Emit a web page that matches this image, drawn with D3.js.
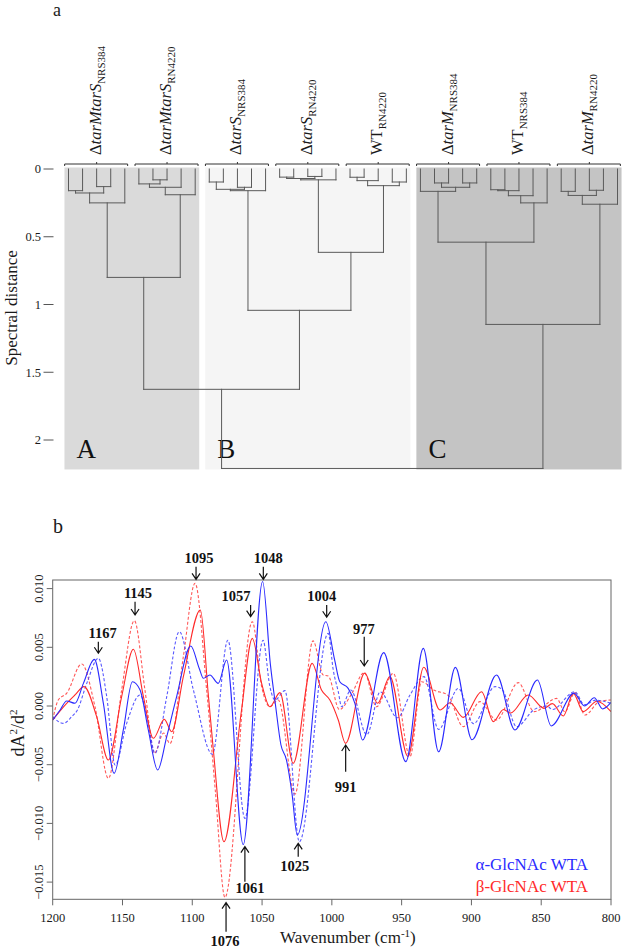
<!DOCTYPE html>
<html><head><meta charset="utf-8">
<script src="https://cdn.jsdelivr.net/npm/d3@7"></script>
<style>
body{margin:0;background:#fff}
svg{display:block}
text{font-family:"Liberation Serif","Times New Roman",serif}
</style>
</head><body>
<svg id="c" width="625" height="951"></svg>
<script>
// ---------------- Panel a : dendrogram data ----------------
const strainNames = ["ΔtarMtarS","ΔtarMtarS","ΔtarS","ΔtarS","WT","ΔtarM","WT","ΔtarM"];
const strainSubs  = ["NRS384","RN4220","NRS384","RN4220","RN4220","NRS384","NRS384","RN4220"];
const clusterNames = ["A","B","C"];
const clusterGroups = [[0,1],[2,3,4],[5,6,7]];
const distTicks = [0,0.5,1,1.5,2];
// merges: [left, right, height]; leaves are replicate spectra indices 0..39
const g1 = [[[0,1,0.16],[2,3,0.13],0.177],4,0.25];
const g2 = [[[5,[6,7,0.08],0.11],8,0.135],9,0.19];
const g3 = [[[10,11,0.096],[12,13,0.135],0.15],14,0.16];
const g4 = [[[15,16,0.06],[17,18,0.055],0.07],19,0.08];
const g5 = [[[20,21,0.061],22,0.086],[23,24,0.096],0.123];
const g6 = [25,[[26,27,0.103],[28,29,0.103],0.135],0.165];
const g7 = [[[[30,31,0.153],32,0.16],33,0.197],34,0.25];
const g8 = [[[35,36,0.165],[37,38,0.157],0.195],39,0.26];
const tree = [[[g1,g2,0.80],[g3,[g4,g5,0.615],1.043],1.626],[[g6,g7,0.54],g8,1.147],2.21];

// ---------------- Panel b : second-derivative spectra (units of 1e-3) ----------------
const alphaSolid = [[1200,-1.19],[1194.7,-0.34],[1190,0.43],[1184,0.23],[1178,1.93],[1170.2,3.97],[1163.7,0.23],[1156,-5.74],[1149.4,-2.04],[1142.9,2.07],[1137.4,1.36],[1131.5,-2.04],[1124.8,-5.45],[1118.3,-2.61],[1111.2,0.8],[1101.1,5.11],[1095,3.2],[1092,2.36],[1087.4,2.64],[1081.4,1.93],[1075.4,3.92],[1063.5,-11.8],[1049.6,10.6],[1044,3.5],[1040.5,0.2],[1036.5,-3.3],[1032.5,-4.6],[1028.5,-7.5],[1024.8,-11.0],[1004.3,7.18],[998,3.92],[994.3,2.07],[988.3,1.5],[983.5,0.23],[978,-2.9],[962.9,4.55],[947,-4.74],[934.5,4.91],[923.5,-3.9],[911.5,3.29],[899.6,-2.87],[882,2.64],[868.8,-2.04],[852.7,2.21],[842.8,-1.7],[826.5,1.1],[819,0],[812,0.7],[806,-0.25],[800,0.3]];
const alphaDashed = [[1200,-0.91],[1192.4,-1.48],[1186.4,-0.91],[1182.3,-0.34],[1175.6,1.93],[1167.3,4.06],[1161.3,0.8],[1155.3,-5.03],[1147,-1.48],[1137.4,0.94],[1131.5,-1.48],[1126.7,-4.03],[1118.3,0.8],[1109.3,6.33],[1099.2,1.36],[1085.6,-4.1],[1074.5,5.6],[1062.3,-9.57],[1049.3,5.6],[1044.4,1.65],[1040.8,0.51],[1033.6,1.31],[1023.3,-11.56],[1002.6,6.19],[999,3.07],[995.4,1.22],[993,-0.06],[986.4,1.36],[975,-2.45],[965.3,1.2],[953,-1.0],[944,0.94],[934,2.5],[923.5,-1.99],[909.4,1.5],[898.5,-1.5],[883.1,1.65],[878,1.4],[867.6,-1.76],[855,-0.3],[846,0.0],[842,-0.3],[826,1.22],[819,0.1],[811,0.5],[800,0.23]];
const betaSolid = [[1200,-1.19],[1190,0.23],[1184,0.94],[1177.6,1.65],[1168.5,-0.91],[1160.1,-4.6],[1150.6,0.8],[1142.2,4.83],[1135,0.8],[1127.9,-2.75],[1120,-1.14],[1114.8,-2.19],[1106.4,2.5],[1094.2,8.18],[1088.6,1.08],[1084.9,-3.75],[1077.3,-11.56],[1064.7,-0.34],[1057,5.76],[1050.3,1.93],[1044.4,-0.06],[1037.2,1.14],[1027.7,-4.88],[1014.1,3.63],[1007.4,1.36],[1001.4,0.51],[995.4,-1.19],[990.2,-3.18],[976.5,2.8],[967.2,0.23],[958.4,2.5],[945.5,-4.3],[934.2,3.3],[922.5,-0.34],[915.4,0.28],[905.8,-0.97],[892.7,1.22],[884.3,-1.33],[877,-0.3],[872,-0.6],[859.3,0.94],[848,-0.2],[842,0.2],[834.2,-0.85],[827,1.08],[819.9,-0.48],[810,0.4],[800,-0.48]];
const betaDashed = [[1200,-1.19],[1196,0.51],[1190,1.08],[1179.2,3.58],[1169.7,-0.06],[1160.1,-6.16],[1150.6,1.36],[1141.5,7.27],[1133.9,1.36],[1127.2,-4.03],[1120.5,-2.3],[1116,-3.2],[1106.4,4.2],[1098,10.45],[1089.7,1.36],[1083.5,-7.2],[1076.6,-16.3],[1057,7.18],[1050.3,1.65],[1044.4,-0.06],[1038.4,0.51],[1026.4,-7.5],[1013.5,5.55],[1006.2,2.64],[1002.6,2.56],[994.6,-0.3],[986,1.0],[976.8,2.84],[968,-0.06],[956,2.78],[944,-4.3],[935.7,2.07],[927,1.36],[917,0.94],[905.8,-1.76],[893.9,0.37],[882,-1.19],[866.4,1.99],[855,-0.48],[839,0.65],[833,-0.5],[825.8,1.14],[818.7,-0.77],[808,0.4],[800,0.51]];
const wnTicks = [1200,1150,1100,1050,1000,950,900,850,800];
const dTicks = [-15,-10,-5,0,5,10];
const legendLabels = ["α-GlcNAc WTA","β-GlcNAc WTA"];
const annotations = [
  {t:"1167", wn:1167.3, lw:1164.2, tip:4.49,  tail:5.48,  lv:5.77},
  {t:"1145", wn:1141.0, lw:1138.9, tip:7.75,  tail:8.88,  lv:9.17},
  {t:"1095", wn:1097.3, lw:1095.2, tip:10.79, tail:11.87, lv:12.21},
  {t:"1048", wn:1049.1, lw:1045.6, tip:10.79, tail:11.87, lv:12.21},
  {t:"1057", wn:1058.2, lw:1068.7, tip:7.61,  tail:8.60,  lv:8.94},
  {t:"1004", wn:1003.7, lw:1007.3, tip:7.56,  tail:8.60,  lv:8.94},
  {t:"977",  wn:976.8,  lw:977.0,  tip:3.41,  tail:5.90,  lv:6.11},
  {t:"991",  wn:990.1,  lw:990.1,  tip:-3.32, tail:-5.60, lv:-7.30},
  {t:"1025", wn:1024.1, lw:1026.6, tip:-11.70,tail:-12.84,lv:-14.05},
  {t:"1061", wn:1062.3, lw:1058.7, tip:-11.98,tail:-14.97,lv:-15.95},
  {t:"1076", wn:1075.8, lw:1076.6, tip:-16.75,tail:-19.22,lv:-20.45}
];

const svg = d3.select("#c");
const TXT = "#1a1a1a";

// ================= Panel a =================
const leafX = d3.scaleLinear().domain([0,39]).range([68.5,617.5]);
const yD = d3.scaleLinear().domain([0,2]).range([169,440]);
const panelFill = ["#dadada","#f5f5f5","#c4c4c4"];
const pa = svg.append("g");

clusterGroups.forEach((gs,i)=>{
  const first = gs[0]*5, last = gs[gs.length-1]*5+4;
  const x0 = leafX(first-0.5)+3, x1 = leafX(last+0.5)-3;
  pa.append("rect").attr("x",x0).attr("y",167.5).attr("width",x1-x0)
    .attr("height",yD(2.21)+1-167.5).attr("fill",panelFill[i]);
  pa.append("text").attr("x",x0+12).attr("y",458).attr("font-size",27)
    .attr("fill","#111").text(clusterNames[i]);
});

const segs = [];
function walk(n){
  if (typeof n === "number") return {x:leafX(n), h:0};
  const a = walk(n[0]), b = walk(n[1]), h = n[2];
  segs.push([a.x,yD(a.h),a.x,yD(h)]);
  segs.push([b.x,yD(b.h),b.x,yD(h)]);
  segs.push([a.x,yD(h),b.x,yD(h)]);
  return {x:(a.x+b.x)/2, h};
}
walk(tree);
pa.selectAll("line.dl").data(segs).join("line").attr("class","dl")
  .attr("x1",d=>d[0]).attr("y1",d=>d[1]).attr("x2",d=>d[2]).attr("y2",d=>d[3])
  .attr("stroke","#5a5a5a").attr("stroke-width",1).attr("stroke-linecap","square");

// group brackets and labels
strainNames.forEach((nm,g)=>{
  const cx = leafX(g*5+2);
  pa.append("path").attr("d",`M${cx-32},166 V164 H${cx+31} V166 M${cx},164 V162`)
    .attr("fill","none").attr("stroke","#333").attr("stroke-width",1);
  const t = pa.append("text").attr("transform",`translate(${cx+4},155) rotate(-90)`)
    .attr("font-size",16.5).attr("fill",TXT);
  if (nm.startsWith("Δ")) {
    t.append("tspan").text("Δ");
    t.append("tspan").attr("font-style","italic").text(nm.slice(1));
  } else {
    t.append("tspan").text(nm);
  }
  t.append("tspan").attr("font-size",11).attr("dy",4).text(strainSubs[g]);
});

// y axis (ticks only)
distTicks.forEach(v=>{
  pa.append("line").attr("x1",43.5).attr("x2",53.5).attr("y1",yD(v)).attr("y2",yD(v))
    .attr("stroke","#555").attr("stroke-width",1);
  pa.append("text").attr("x",41).attr("y",yD(v)+4.3).attr("text-anchor","end")
    .attr("font-size",12.5).attr("fill",TXT).text(v);
});
pa.append("text").attr("transform","translate(17,308) rotate(-90)").attr("text-anchor","middle")
  .attr("font-size",17).attr("fill",TXT).text("Spectral distance");
svg.append("text").attr("x",53).attr("y",16).attr("font-size",18).attr("fill",TXT).text("a");

// ================= Panel b =================
const X0=52.7, X1=611, Y0=580, Y1=899.3;
const xS = d3.scaleLinear().domain([1200,800]).range([X0,X1]);
const yS = d3.scaleLinear().domain([-16.465,10.733]).range([Y1,Y0]);
const pb = svg.append("g");
svg.append("text").attr("x",53).attr("y",533).attr("font-size",20).attr("fill",TXT).text("b");

pb.append("clipPath").attr("id","clipb").append("rect")
  .attr("x",X0).attr("y",Y0).attr("width",X1-X0).attr("height",Y1-Y0);

const line = d3.line().x(d=>xS(d[0])).y(d=>yS(d[1])).curve(d3.curveMonotoneX);
const series = [
  {d:betaDashed, c:"#ff3b3b", dash:"3,2", w:1.1},
  {d:alphaDashed, c:"#3b3bff", dash:"3,2", w:1.1},
  {d:betaSolid, c:"#ff2a2a", dash:null, w:1.1},
  {d:alphaSolid, c:"#2a2aff", dash:null, w:1.1}
];
const lg = pb.append("g").attr("clip-path","url(#clipb)");
series.forEach(s=>{
  lg.append("path").attr("d",line(s.d)).attr("fill","none").attr("stroke",s.c)
    .attr("stroke-width",s.w).attr("stroke-dasharray",s.dash).attr("stroke-opacity",s.dash?0.85:1);
});

// frame
pb.append("rect").attr("x",X0).attr("y",Y0).attr("width",X1-X0).attr("height",Y1-Y0)
  .attr("fill","none").attr("stroke","#666").attr("stroke-width",1);

// x axis
wnTicks.forEach(v=>{
  pb.append("line").attr("x1",xS(v)).attr("x2",xS(v)).attr("y1",Y1).attr("y2",Y1+6)
    .attr("stroke","#666");
  pb.append("text").attr("x",xS(v)).attr("y",922).attr("text-anchor","middle")
    .attr("font-size",12.5).attr("fill",TXT).text(v);
});
const xt = pb.append("text").attr("x",280).attr("y",943).attr("font-size",17).attr("fill",TXT);
xt.append("tspan").text("Wavenumber (cm");
xt.append("tspan").attr("font-size",11).attr("dy",-6).text("-1");
xt.append("tspan").attr("dy",6).text(")");

// y axis
dTicks.forEach(v=>{
  pb.append("line").attr("x1",X0-6).attr("x2",X0).attr("y1",yS(v)).attr("y2",yS(v))
    .attr("stroke","#666");
  pb.append("text").attr("transform",`translate(43,${yS(v)}) rotate(-90)`)
    .attr("text-anchor","middle").attr("font-size",12.5).attr("fill",TXT)
    .text(d3.format(".3f")(v/1000));
});
const yt = pb.append("text").attr("transform","translate(24,733) rotate(-90)")
  .attr("text-anchor","middle").attr("font-size",18).attr("fill",TXT);
yt.append("tspan").text("dA");
yt.append("tspan").attr("font-size",11).attr("dy",-7).text("2");
yt.append("tspan").attr("dy",7).text("/d");
yt.append("tspan").attr("font-size",11).attr("dy",-7).text("2");

// annotations
annotations.forEach(a=>{
  const x = xS(a.wn), y1 = yS(a.tail), y2 = yS(a.tip);
  const s = Math.sign(y2-y1);
  pb.append("path").attr("d",`M${x},${y1} V${y2} M${x-4},${y2-s*6} L${x},${y2} L${x+4},${y2-s*6}`)
    .attr("fill","none").attr("stroke","#111").attr("stroke-width",1.2);
  pb.append("text").attr("x",xS(a.lw)).attr("y",yS(a.lv)).attr("text-anchor","middle")
    .attr("font-size",14.5).attr("font-weight","bold").attr("fill","#111").text(a.t);
});

// legend
pb.append("text").attr("x",588).attr("y",870).attr("text-anchor","end").attr("font-size",17)
  .attr("fill","#2a2aff").text(legendLabels[0]);
pb.append("text").attr("x",588).attr("y",891.7).attr("text-anchor","end").attr("font-size",17)
  .attr("fill","#ff2a2a").text(legendLabels[1]);
</script>
</body></html>
